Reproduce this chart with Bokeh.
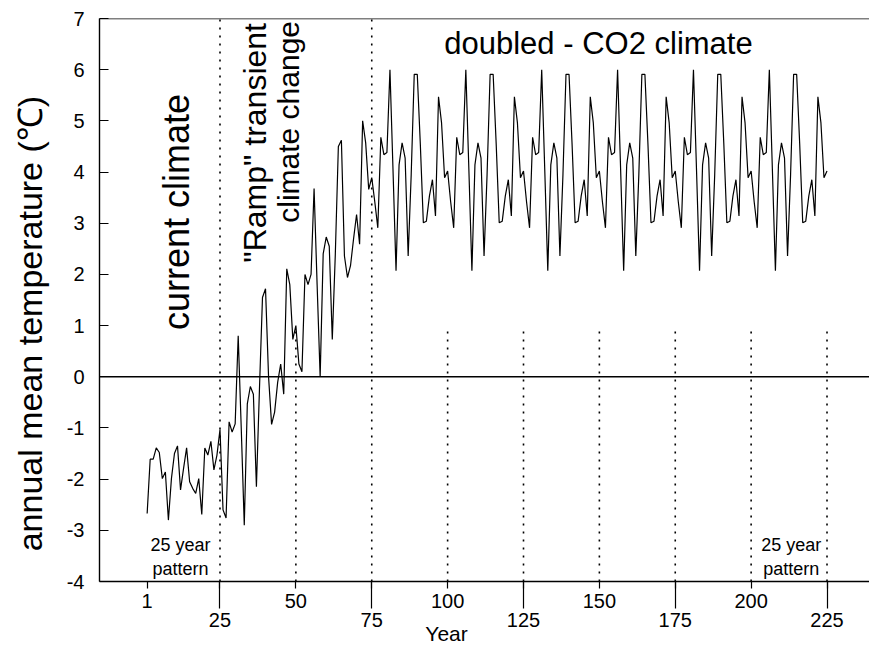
import math
from bokeh.plotting import figure
from bokeh.models import FixedTicker, Span, Label, Range1d, ColumnDataSource
from bokeh.embed import file_html
from bokeh.resources import INLINE

# ---- data -----------------------------------------------------------------
# years 1..24: current climate
current_climate = [-2.67, -1.61, -1.61, -1.39, -1.48, -1.99, -1.86, -2.80,
                   -1.99, -1.50, -1.35, -2.21, -1.79, -1.39, -2.05, -2.18,
                   -2.28, -1.99, -2.69, -1.39, -1.53, -1.26, -1.82, -1.53]
# years 25..75: "Ramp" transient climate change
ramp = [-1.03, -2.60, -2.76, -0.88, -1.08, -0.92, 0.80, -1.00, -2.90, -0.53,
        -0.19, -0.34, -2.15, -0.25, 1.55, 1.72, 0.00, -0.93, -0.69, -0.11,
        0.25, -0.34, 2.11, 1.80, 0.73, 1.00, 0.25, 0.10, 2.00, 1.80,
        2.00, 3.68, 1.80, 0.00, 2.40, 2.73, 2.55, 0.73, 2.40, 4.50,
        4.62, 2.36, 1.94, 2.17, 2.69, 3.17, 2.59, 5.00, 4.57, 3.66, 3.89]
# years 76..100: one 25-year pattern of the doubled-CO2 climate
doubled_pattern = [3.42, 2.91, 4.68, 4.34, 4.38, 6.00, 4.05, 2.07, 4.14, 4.57,
                   4.27, 2.36, 3.95, 5.91, 5.91, 4.55, 3.01, 3.04, 3.53, 3.85,
                   3.14, 5.47, 4.96, 3.89, 4.02]
pattern_repeats = 6   # the chart shows the 25-year pattern repeated (years 76..225)

temperature = current_climate + ramp + doubled_pattern * pattern_repeats
years = list(range(1, len(temperature) + 1))

x_ticks = [1, 25, 50, 75, 100, 125, 150, 175, 200, 225]
lower_tick_labels = [25, 75, 125, 175, 225]
y_ticks = [-4, -3, -2, -1, 0, 1, 2, 3, 4, 5, 6, 7]
full_markers = [25, 75]
short_markers = [50, 100, 125, 150, 175, 200, 225]
short_marker_top = 0.9

FONT = "Liberation Sans"
NBSP = "\u00a0"

p = figure(width=869, height=648, output_backend="svg", toolbar_location=None,
           title=None, x_range=Range1d(-14.7, 239.0), y_range=Range1d(-4, 7),
           min_border_left=99, min_border_right=0, min_border_top=18,
           min_border_bottom=65)
p.outline_line_color = None
p.grid.visible = False
p.background_fill_color = "white"

# x axis: short ticks everywhere, long ticks (as minor ticks) at 25, 75, ...
p.xaxis.ticker = FixedTicker(ticks=x_ticks, minor_ticks=lower_tick_labels)
p.xaxis.major_label_overrides = {t: ("\n" + str(t) if t in lower_tick_labels else str(t))
                                 for t in x_ticks}
p.xaxis.major_tick_in = 0
p.xaxis.major_tick_out = 7
p.xaxis.minor_tick_in = 0
p.xaxis.minor_tick_out = 27
p.xaxis.minor_tick_line_color = "black"
p.xaxis.minor_tick_line_width = 1.2
p.xaxis.major_label_standoff = -19
p.xaxis.major_label_text_line_height = 0.9
# trailing no-break spaces move the centred label left, under year 100
p.xaxis.axis_label = "Year" + NBSP * 13
p.xaxis.axis_label_text_font_size = "21px"
p.xaxis.axis_label_standoff = -12

# y axis: ticks inside
p.yaxis.ticker = FixedTicker(ticks=y_ticks)
p.yaxis.major_label_overrides = {t: str(t) for t in y_ticks}
p.yaxis.major_tick_in = 9
p.yaxis.major_tick_out = 0
p.yaxis.minor_tick_line_color = None
p.yaxis.major_label_standoff = 15
p.yaxis.axis_label = "annual mean temperature (\u2103)" + NBSP * 5
p.yaxis.axis_label_text_font_size = "34px"
p.yaxis.axis_label_standoff = 15

for ax in (p.xaxis, p.yaxis):
    ax.axis_line_color = "black"
    ax.axis_line_width = 1.4
    ax.major_tick_line_color = "black"
    ax.major_tick_line_width = 1.2
    ax.major_label_text_font = FONT
    ax.major_label_text_font_size = "20px"
    ax.major_label_text_color = "black"
    ax.axis_label_text_font = FONT
    ax.axis_label_text_font_style = "normal"
    ax.axis_label_text_color = "black"

# top border and zero line
p.add_layout(Span(location=7, dimension="width", line_color="black", line_width=1.4))
p.add_layout(Span(location=0, dimension="width", line_color="black", line_width=1.4))

# dotted 25-year markers
p.segment(x0=full_markers, y0=[-4] * len(full_markers), x1=full_markers,
          y1=[7] * len(full_markers), line_color="black", line_width=1.6,
          line_dash="2 6")
p.segment(x0=short_markers, y0=[-4] * len(short_markers), x1=short_markers,
          y1=[short_marker_top] * len(short_markers), line_color="black",
          line_width=1.6, line_dash="2 6")

# the series
src = ColumnDataSource(data=dict(year=years, temp=temperature))
p.line("year", "temp", source=src, line_color="black", line_width=1.2)

def lab(x, y, text, size, angle=0.0):
    p.add_layout(Label(x=x, y=y, text=text, text_align="center",
                       text_baseline="middle", angle=angle, text_font=FONT,
                       text_font_size=size, text_color="black"))

lab(10.8, 3.22, "current climate", "36px", math.pi / 2)
lab(36.4, 4.57, "\"Ramp\" transient", "32px", math.pi / 2)
lab(47.6, 4.98, "climate change", "30px", math.pi / 2)
lab(149.7, 6.51, "doubled - CO2 climate", "31px")
lab(12.0, -3.28, "25 year", "18px")
lab(12.0, -3.75, "pattern", "18px")
lab(213.2, -3.28, "25 year", "18px")
lab(213.2, -3.75, "pattern", "18px")

open("out.html", "w").write(file_html(p, INLINE, title="annual mean temperature"))
